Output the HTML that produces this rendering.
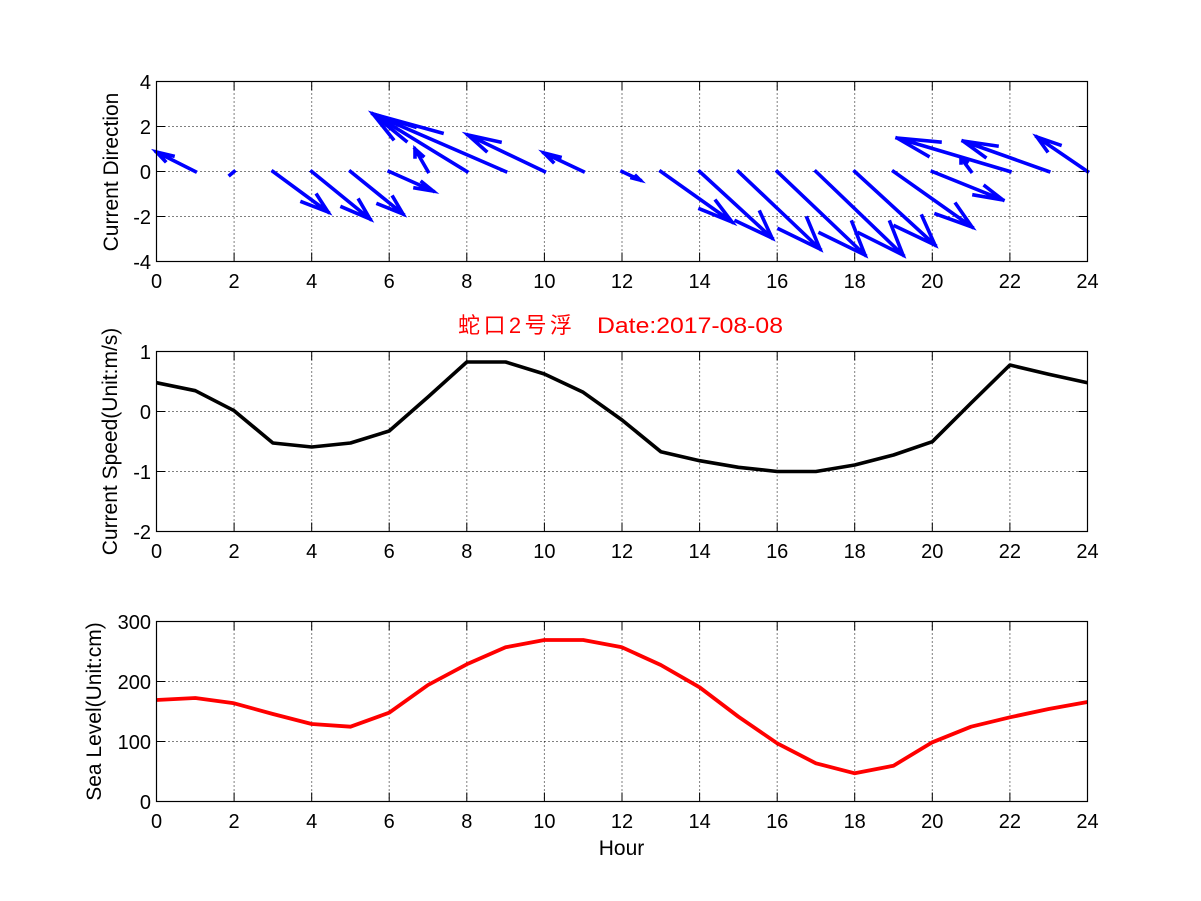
<!DOCTYPE html>
<html>
<head>
<meta charset="utf-8">
<style>
html,body{margin:0;padding:0;background:#fff;}
svg{display:block;}
text{font-family:"Liberation Sans","Noto Sans CJK SC",sans-serif;fill:#000;}
text.red{fill:#ff0000;}
</style>
</head>
<body>
<svg width="1201" height="901" viewBox="0 0 1201 901" xmlns="http://www.w3.org/2000/svg">
<rect x="0" y="0" width="1201" height="901" fill="#fff"/>

<!-- ============ GRIDS ============ -->
<g stroke="#000" stroke-width="1" stroke-dasharray="1 3" fill="none">
  <path d="M234.1 81.5V261.5 M311.7 81.5V261.5 M389.2 81.5V261.5 M466.8 81.5V261.5 M544.4 81.5V261.5 M622 81.5V261.5 M699.6 81.5V261.5 M777.2 81.5V261.5 M854.7 81.5V261.5 M932.3 81.5V261.5 M1009.9 81.5V261.5"/>
  <path d="M156.5 126.5H1087.5 M156.5 171.5H1087.5 M156.5 216.5H1087.5"/>
  <path d="M234.1 351.5V531.5 M311.7 351.5V531.5 M389.2 351.5V531.5 M466.8 351.5V531.5 M544.4 351.5V531.5 M622 351.5V531.5 M699.6 351.5V531.5 M777.2 351.5V531.5 M854.7 351.5V531.5 M932.3 351.5V531.5 M1009.9 351.5V531.5"/>
  <path d="M156.5 411.5H1087.5 M156.5 471.5H1087.5"/>
  <path d="M234.1 621.5V801.5 M311.7 621.5V801.5 M389.2 621.5V801.5 M466.8 621.5V801.5 M544.4 621.5V801.5 M622 621.5V801.5 M699.6 621.5V801.5 M777.2 621.5V801.5 M854.7 621.5V801.5 M932.3 621.5V801.5 M1009.9 621.5V801.5"/>
  <path d="M156.5 681.5H1087.5 M156.5 741.5H1087.5"/>
</g>

<!-- ============ TICKS ============ -->
<g stroke="#000" stroke-width="1" fill="none">
  <path d="M234.1 261.5v-9 M311.7 261.5v-9 M389.2 261.5v-9 M466.8 261.5v-9 M544.4 261.5v-9 M622 261.5v-9 M699.6 261.5v-9 M777.2 261.5v-9 M854.7 261.5v-9 M932.3 261.5v-9 M1009.9 261.5v-9"/>
  <path d="M234.1 81.5v9 M311.7 81.5v9 M389.2 81.5v9 M466.8 81.5v9 M544.4 81.5v9 M622 81.5v9 M699.6 81.5v9 M777.2 81.5v9 M854.7 81.5v9 M932.3 81.5v9 M1009.9 81.5v9"/>
  <path d="M156.5 126.5h9 M156.5 171.5h9 M156.5 216.5h9 M1087.5 126.5h-9 M1087.5 171.5h-9 M1087.5 216.5h-9"/>
  <path d="M234.1 531.5v-9 M311.7 531.5v-9 M389.2 531.5v-9 M466.8 531.5v-9 M544.4 531.5v-9 M622 531.5v-9 M699.6 531.5v-9 M777.2 531.5v-9 M854.7 531.5v-9 M932.3 531.5v-9 M1009.9 531.5v-9"/>
  <path d="M234.1 351.5v9 M311.7 351.5v9 M389.2 351.5v9 M466.8 351.5v9 M544.4 351.5v9 M622 351.5v9 M699.6 351.5v9 M777.2 351.5v9 M854.7 351.5v9 M932.3 351.5v9 M1009.9 351.5v9"/>
  <path d="M156.5 411.5h9 M156.5 471.5h9 M1087.5 411.5h-9 M1087.5 471.5h-9"/>
  <path d="M234.1 801.5v-9 M311.7 801.5v-9 M389.2 801.5v-9 M466.8 801.5v-9 M544.4 801.5v-9 M622 801.5v-9 M699.6 801.5v-9 M777.2 801.5v-9 M854.7 801.5v-9 M932.3 801.5v-9 M1009.9 801.5v-9"/>
  <path d="M234.1 621.5v9 M311.7 621.5v9 M389.2 621.5v9 M466.8 621.5v9 M544.4 621.5v9 M622 621.5v9 M699.6 621.5v9 M777.2 621.5v9 M854.7 621.5v9 M932.3 621.5v9 M1009.9 621.5v9"/>
  <path d="M156.5 681.5h9 M156.5 741.5h9 M1087.5 681.5h-9 M1087.5 741.5h-9"/>
</g>

<!-- ============ SERIES ============ -->
<g stroke="#0000ff" stroke-width="3.6" fill="none" stroke-linejoin="miter" stroke-linecap="square">
  <path d="M195.3 171.5L156.5 152 M165 161L156.5 152L173 156"/>
  <path d="M234.1 171.5L230 175"/>
  <path d="M272.9 171.5L328 212 M317 195L328 212L302 202"/>
  <path d="M311.7 171.5L370 219 M359 200L370 219L342 207"/>
  <path d="M350.5 171.5L403 214 M393 197L403 214L378 204"/>
  <path d="M389.2 171.5L433 191 M422 182L433 191L415 188"/>
  <path d="M428 171.5L415 149 M415 157L415 149L423 156"/>
  <path d="M466.8 171.5L373 114 M393 139L373 114L415 127"/>
  <path d="M505.6 171.5L373 114 M406 141L373 114L442 133"/>
  <path d="M544.4 171.5L468 135 M486 151L468 135L500 142"/>
  <path d="M583.2 171.5L544 153 M553 162L544 153L560 157"/>
  <path d="M622 171.5L640 180 M636 176L640 180L632 178"/>
  <path d="M660.8 171.5L732 222 M716 201L732 222L700 209"/>
  <path d="M699.6 171.5L772 238 M760 212L772 238L736 221"/>
  <path d="M738.4 171.5L820 249 M807 218L820 249L779 229"/>
  <path d="M777.2 171.5L865 255 M852 222L865 255L820 233"/>
  <path d="M815.9 171.5L903 255 M890 222L903 255L859 233"/>
  <path d="M854.7 171.5L935 245 M922 216L935 245L895 226"/>
  <path d="M893.5 171.5L972 227 M956 204L972 227L936 214"/>
  <path d="M932.3 171.5L1003 200 M985 186L1003 200L974 195"/>
  <path d="M971.1 171.5L961 158 M961 163L961 158L967 162"/>
  <path d="M1009.9 171.5L897 138 M928 156L897 138L940 142"/>
  <path d="M1048.7 171.5L963 141 M985 157L963 141L997 146"/>
  <path d="M1087.5 171.5L1037 137 M1047 151L1037 137L1060 145"/>
</g>

<polyline fill="none" stroke="#000" stroke-width="3.6" stroke-linejoin="round"
 points="156.5,382.7 195.3,390.7 234.1,410.7 272.9,443 311.7,447 350.5,443 389.2,431 428,397 466.8,362 505.6,362 544.4,374 583.2,392.3 622,420 660.8,451.7 699.6,460.7 738.4,467.3 777.2,471.5 815.9,471.5 854.7,465 893.5,455 932.3,441.7 971.1,403 1009.9,365 1048.7,374.3 1087.5,382.7"/>

<polyline fill="none" stroke="#ff0000" stroke-width="3.8" stroke-linejoin="round"
 points="156.5,700 195.3,698 234.1,703.3 272.9,714 311.7,724 350.5,726.7 389.2,712.7 428,685 466.8,664.3 505.6,647.3 544.4,640 583.2,640 622,647.3 660.8,665 699.6,687.3 738.4,716.7 777.2,743.3 815.9,763.3 854.7,773.3 893.5,765.7 932.3,742.3 971.1,726.7 1009.9,717.3 1048.7,709 1087.5,702"/>

<!-- ============ AXES BOXES ============ -->
<g stroke="#000" stroke-width="1.2" fill="none">
  <rect x="156.5" y="81.5" width="931" height="180"/>
  <rect x="156.5" y="351.5" width="931" height="180"/>
  <rect x="156.5" y="621.5" width="931" height="180"/>
</g>

<!-- ============ TICK LABELS ============ -->
<g font-size="20" text-anchor="middle">
  <text x="156.5" y="288">0</text><text x="234.1" y="288">2</text><text x="311.7" y="288">4</text><text x="389.2" y="288">6</text><text x="466.8" y="288">8</text><text x="544.4" y="288">10</text><text x="622" y="288">12</text><text x="699.6" y="288">14</text><text x="777.2" y="288">16</text><text x="854.7" y="288">18</text><text x="932.3" y="288">20</text><text x="1009.9" y="288">22</text><text x="1087.5" y="288">24</text>
  <text x="156.5" y="558">0</text><text x="234.1" y="558">2</text><text x="311.7" y="558">4</text><text x="389.2" y="558">6</text><text x="466.8" y="558">8</text><text x="544.4" y="558">10</text><text x="622" y="558">12</text><text x="699.6" y="558">14</text><text x="777.2" y="558">16</text><text x="854.7" y="558">18</text><text x="932.3" y="558">20</text><text x="1009.9" y="558">22</text><text x="1087.5" y="558">24</text>
  <text x="156.5" y="828">0</text><text x="234.1" y="828">2</text><text x="311.7" y="828">4</text><text x="389.2" y="828">6</text><text x="466.8" y="828">8</text><text x="544.4" y="828">10</text><text x="622" y="828">12</text><text x="699.6" y="828">14</text><text x="777.2" y="828">16</text><text x="854.7" y="828">18</text><text x="932.3" y="828">20</text><text x="1009.9" y="828">22</text><text x="1087.5" y="828">24</text>
</g>
<g font-size="20" text-anchor="end">
  <text x="151" y="89">4</text><text x="151" y="134">2</text><text x="151" y="179">0</text><text x="151" y="224">-2</text><text x="151" y="269">-4</text>
  <text x="151" y="359">1</text><text x="151" y="419">0</text><text x="151" y="479">-1</text><text x="151" y="539">-2</text>
  <text x="151" y="629">300</text><text x="151" y="689">200</text><text x="151" y="749">100</text><text x="151" y="809">0</text>
</g>

<!-- ============ AXIS LABELS ============ -->
<g font-size="21" text-anchor="middle">
  <text transform="translate(118,172) rotate(-90)">Current Direction</text>
  <text transform="translate(117,441.5) rotate(-90)">Current Speed(Unit:m/s)</text>
  <text transform="translate(101,711.5) rotate(-90)">Sea Level(Unit:cm)</text>
  <text x="621.5" y="855">Hour</text>
</g>

<!-- ============ TITLE ============ -->
<g font-size="22">
  <text class="red" style="fill:#ff0000" x="458" y="333" textLength="114" lengthAdjust="spacing">蛇口2号浮</text>
  <text class="red" style="fill:#ff0000" x="597" y="333" textLength="186" lengthAdjust="spacingAndGlyphs">Date:2017-08-08</text>
</g>
</svg>
</body>
</html>
